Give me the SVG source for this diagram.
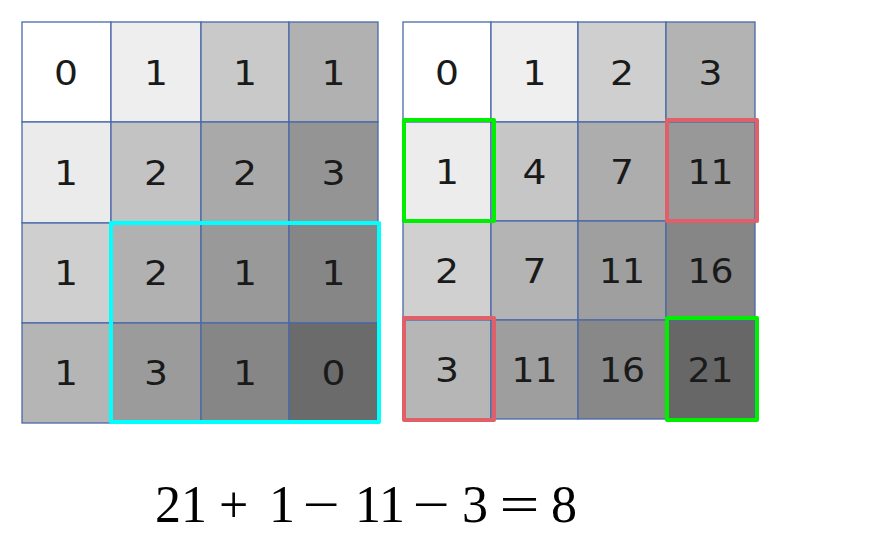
<svg xmlns="http://www.w3.org/2000/svg" width="888" height="544" viewBox="0 0 888 544">
<style>
.c{stroke:#4a68a8;stroke-width:1.3}
.n{font-family:"DejaVu Sans",Verdana,sans-serif;font-size:34px;fill:#1a1a1a;text-anchor:middle}
.eq{font-family:"Liberation Serif","Times New Roman",serif;font-size:52px;fill:#000}
.hl{fill:none;stroke-width:4;stroke-linejoin:round}
</style>
<rect width="888" height="544" fill="#fff"/>
<g id="left-grid">
<rect class="c" x="22" y="22" width="89" height="100" fill="#ffffff"/>
<rect class="c" x="111" y="22" width="90" height="100" fill="#eeeeee"/>
<rect class="c" x="201" y="22" width="88" height="100" fill="#c9c9c9"/>
<rect class="c" x="289" y="22" width="89" height="100" fill="#b1b1b1"/>
<rect class="c" x="22" y="122" width="89" height="101" fill="#ebebeb"/>
<rect class="c" x="111" y="122" width="90" height="101" fill="#c3c3c3"/>
<rect class="c" x="201" y="122" width="88" height="101" fill="#a9a9a9"/>
<rect class="c" x="289" y="122" width="89" height="101" fill="#949494"/>
<rect class="c" x="22" y="223" width="89" height="100" fill="#cfcfcf"/>
<rect class="c" x="111" y="223" width="90" height="100" fill="#b1b1b1"/>
<rect class="c" x="201" y="223" width="88" height="100" fill="#999999"/>
<rect class="c" x="289" y="223" width="89" height="100" fill="#868686"/>
<rect class="c" x="22" y="323" width="89" height="100" fill="#b5b5b5"/>
<rect class="c" x="111" y="323" width="90" height="100" fill="#9b9b9b"/>
<rect class="c" x="201" y="323" width="88" height="100" fill="#868686"/>
<rect class="c" x="289" y="323" width="89" height="100" fill="#6b6b6b"/>
<text class="n" x="66" y="85" textLength="24" lengthAdjust="spacingAndGlyphs">0</text>
<text class="n" x="156" y="85" textLength="24" lengthAdjust="spacingAndGlyphs">1</text>
<text class="n" x="245" y="85" textLength="24" lengthAdjust="spacingAndGlyphs">1</text>
<text class="n" x="333.5" y="85" textLength="24" lengthAdjust="spacingAndGlyphs">1</text>
<text class="n" x="66" y="185" textLength="24" lengthAdjust="spacingAndGlyphs">1</text>
<text class="n" x="156" y="185" textLength="24" lengthAdjust="spacingAndGlyphs">2</text>
<text class="n" x="245" y="185" textLength="24" lengthAdjust="spacingAndGlyphs">2</text>
<text class="n" x="333.5" y="185" textLength="24" lengthAdjust="spacingAndGlyphs">3</text>
<text class="n" x="66" y="285" textLength="24" lengthAdjust="spacingAndGlyphs">1</text>
<text class="n" x="156" y="285" textLength="24" lengthAdjust="spacingAndGlyphs">2</text>
<text class="n" x="245" y="285" textLength="24" lengthAdjust="spacingAndGlyphs">1</text>
<text class="n" x="333.5" y="285" textLength="24" lengthAdjust="spacingAndGlyphs">1</text>
<text class="n" x="66" y="385" textLength="24" lengthAdjust="spacingAndGlyphs">1</text>
<text class="n" x="156" y="385" textLength="24" lengthAdjust="spacingAndGlyphs">3</text>
<text class="n" x="245" y="385" textLength="24" lengthAdjust="spacingAndGlyphs">1</text>
<text class="n" x="333.5" y="385" textLength="24" lengthAdjust="spacingAndGlyphs">0</text>
</g>
<g id="right-grid">
<rect class="c" x="403" y="22" width="88" height="100" fill="#ffffff"/>
<rect class="c" x="491" y="22" width="87" height="100" fill="#efefef"/>
<rect class="c" x="578" y="22" width="88" height="100" fill="#cfcfcf"/>
<rect class="c" x="666" y="22" width="89" height="100" fill="#b3b3b3"/>
<rect class="c" x="403" y="122" width="88" height="99" fill="#ececec"/>
<rect class="c" x="491" y="122" width="87" height="99" fill="#c6c6c6"/>
<rect class="c" x="578" y="122" width="88" height="99" fill="#adadad"/>
<rect class="c" x="666" y="122" width="89" height="99" fill="#989898"/>
<rect class="c" x="403" y="221" width="88" height="99" fill="#d0d0d0"/>
<rect class="c" x="491" y="221" width="87" height="99" fill="#b4b4b4"/>
<rect class="c" x="578" y="221" width="88" height="99" fill="#9f9f9f"/>
<rect class="c" x="666" y="221" width="89" height="99" fill="#868686"/>
<rect class="c" x="403" y="320" width="88" height="99" fill="#b6b6b6"/>
<rect class="c" x="491" y="320" width="87" height="99" fill="#9e9e9e"/>
<rect class="c" x="578" y="320" width="88" height="99" fill="#888888"/>
<rect class="c" x="666" y="320" width="89" height="99" fill="#676767"/>
<text class="n" x="447" y="85" textLength="24" lengthAdjust="spacingAndGlyphs">0</text>
<text class="n" x="534.5" y="85" textLength="24" lengthAdjust="spacingAndGlyphs">1</text>
<text class="n" x="622" y="85" textLength="24" lengthAdjust="spacingAndGlyphs">2</text>
<text class="n" x="710.5" y="85" textLength="24" lengthAdjust="spacingAndGlyphs">3</text>
<text class="n" x="447" y="184" textLength="24" lengthAdjust="spacingAndGlyphs">1</text>
<text class="n" x="534.5" y="184" textLength="24" lengthAdjust="spacingAndGlyphs">4</text>
<text class="n" x="622" y="184" textLength="24" lengthAdjust="spacingAndGlyphs">7</text>
<text class="n" x="710.5" y="184" textLength="46" lengthAdjust="spacingAndGlyphs">11</text>
<text class="n" x="447" y="283" textLength="24" lengthAdjust="spacingAndGlyphs">2</text>
<text class="n" x="534.5" y="283" textLength="24" lengthAdjust="spacingAndGlyphs">7</text>
<text class="n" x="622" y="283" textLength="46" lengthAdjust="spacingAndGlyphs">11</text>
<text class="n" x="710.5" y="283" textLength="46" lengthAdjust="spacingAndGlyphs">16</text>
<text class="n" x="447" y="382" textLength="24" lengthAdjust="spacingAndGlyphs">3</text>
<text class="n" x="534.5" y="382" textLength="46" lengthAdjust="spacingAndGlyphs">11</text>
<text class="n" x="622" y="382" textLength="46" lengthAdjust="spacingAndGlyphs">16</text>
<text class="n" x="710.5" y="382" textLength="46" lengthAdjust="spacingAndGlyphs">21</text>
</g>
<g id="highlights">
<rect class="hl" x="111" y="223" width="268" height="199" stroke="#00ffff"/>
<rect class="hl" x="404" y="120" width="90" height="101" stroke="#00ee00"/>
<rect class="hl" x="667" y="120" width="90" height="101" stroke="#e0606a"/>
<rect class="hl" x="404" y="318" width="90" height="102" stroke="#e0606a"/>
<rect class="hl" x="667" y="318" width="90" height="102" stroke="#00ee00"/>
</g>
<g id="equation">
<text class="eq" x="155" y="522">21</text>
<text class="eq" x="219" y="522">+</text>
<text class="eq" x="269" y="522">1</text>
<text class="eq" x="302.5" y="522" textLength="37" lengthAdjust="spacingAndGlyphs">−</text>
<text class="eq" x="355" y="522">11</text>
<text class="eq" x="412.5" y="522" textLength="37" lengthAdjust="spacingAndGlyphs">−</text>
<text class="eq" x="462" y="522">3</text>
<text class="eq" x="499.5" y="522" textLength="40" lengthAdjust="spacingAndGlyphs">=</text>
<text class="eq" x="551" y="522">8</text>
</g>
</svg>
